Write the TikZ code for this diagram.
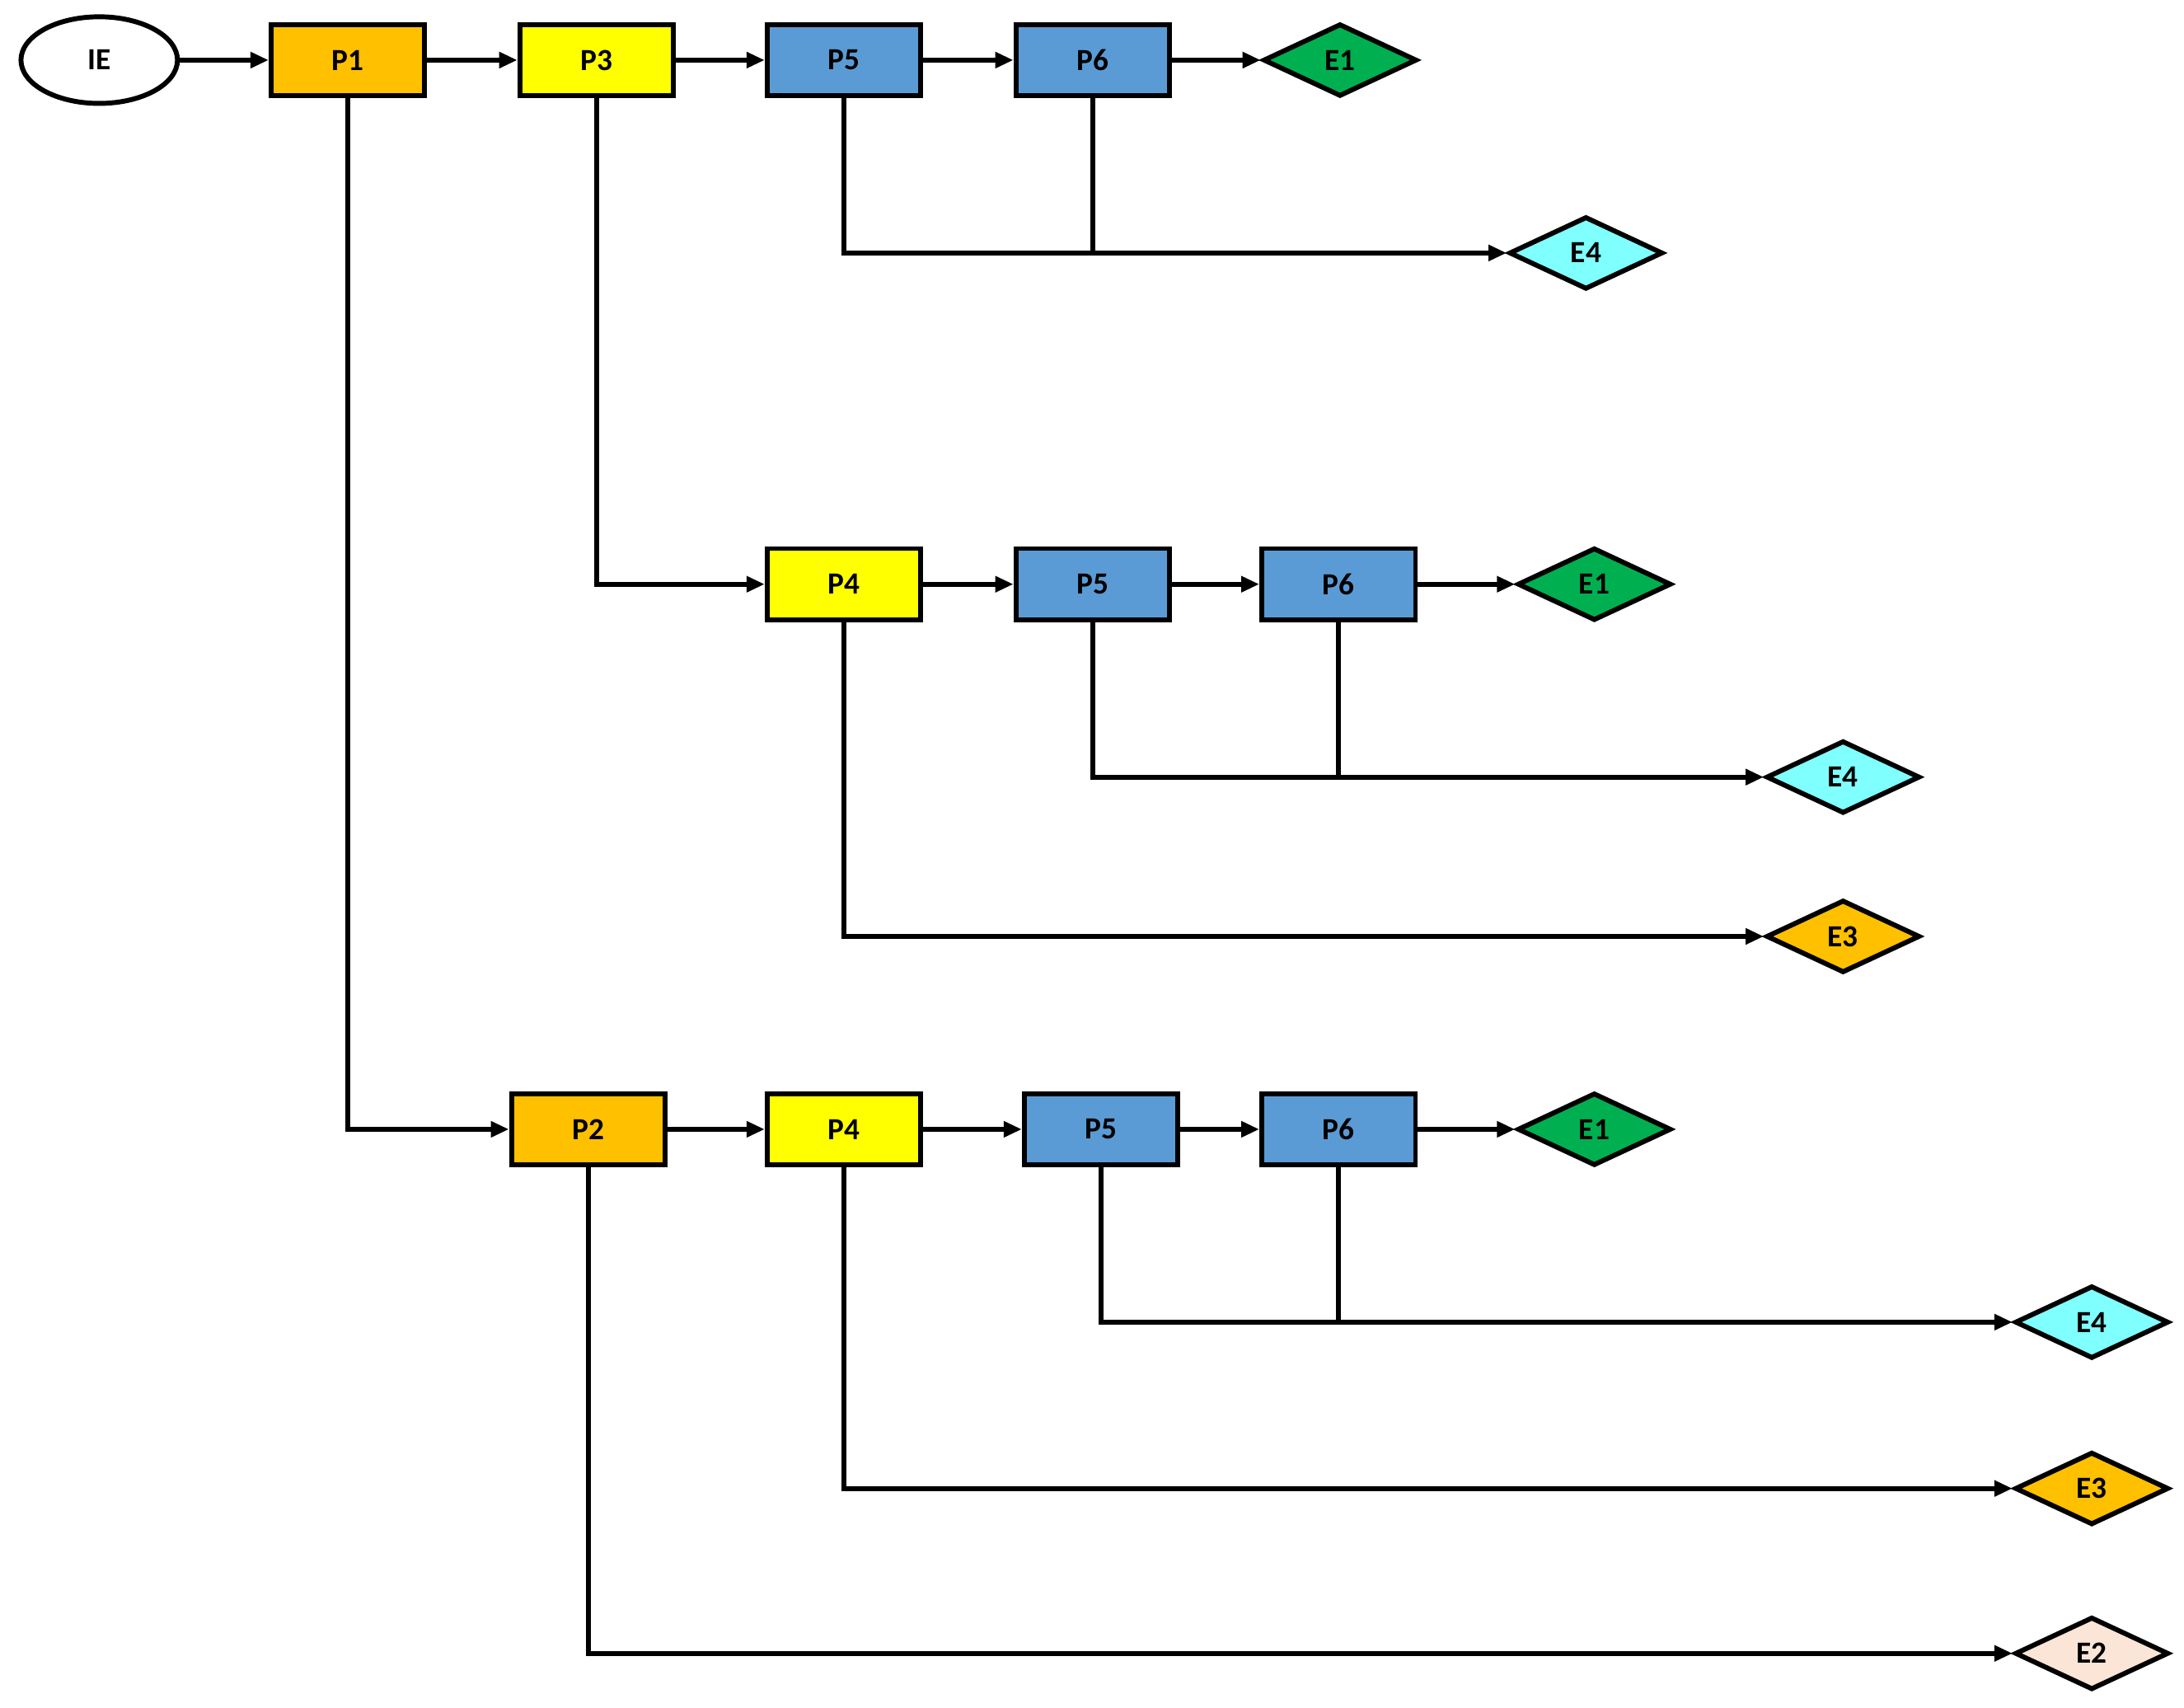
\documentclass[tikz,border=0pt]{standalone}
\usepackage{fontspec}
\setmainfont{Carlito}
\usetikzlibrary{shapes.geometric,arrows.meta}
\definecolor{cor}{HTML}{FFC000}
\definecolor{cye}{HTML}{FFFF00}
\definecolor{cbl}{HTML}{5B9BD5}
\definecolor{cgr}{HTML}{00B050}
\definecolor{ccy}{HTML}{80FFFF}
\definecolor{cpe}{HTML}{FBE5D6}
\begin{document}
\begin{tikzpicture}[x=1pt,y=-1pt,
  every node/.style={font=\fontsize{22}{24}\selectfont\bfseries, line width=3.5pt, draw=black, inner sep=0pt},
  box/.style={rectangle, minimum width=110pt, minimum height=51pt},
  dia/.style={diamond, aspect=2.1, minimum width=110pt, minimum height=52pt},
  ln/.style={line width=3.5pt},
  ar/.style={ln, -{Triangle[length=13pt,width=11pt]}}]
\useasboundingbox (0,0) rectangle (1563,1222);
\node[ellipse, minimum width=112pt, minimum height=62pt, fill=white] (ie) at (71,43) {IE};
\node[box, fill=cor] (p1) at (249,43) {P1};
\node[box, fill=cye] (p3) at (427,43) {P3};
\node[box, fill=cbl] (p5a) at (604,43) {P5};
\node[box, fill=cbl] (p6a) at (782,43) {P6};
\node[dia, fill=cgr] (e1a) at (959,43) {E1};
\node[dia, fill=ccy] (e4a) at (1135,181) {E4};
\node[box, fill=cye] (p4b) at (604,418) {P4};
\node[box, fill=cbl] (p5b) at (782,418) {P5};
\node[box, fill=cbl] (p6b) at (958,418) {P6};
\node[dia, fill=cgr] (e1b) at (1141,418) {E1};
\node[dia, fill=ccy] (e4b) at (1319,556) {E4};
\node[dia, fill=cor] (e3b) at (1319,670) {E3};
\node[box, fill=cor] (p2) at (421,808) {P2};
\node[box, fill=cye] (p4c) at (604,808) {P4};
\node[box, fill=cbl] (p5c) at (788,808) {P5};
\node[box, fill=cbl] (p6c) at (958,808) {P6};
\node[dia, fill=cgr] (e1c) at (1141,808) {E1};
\node[dia, fill=ccy] (e4c) at (1497,946) {E4};
\node[dia, fill=cor] (e3c) at (1497,1065) {E3};
\node[dia, fill=cpe] (e2c) at (1497,1183) {E2};
\draw[ar] (ie) -- (p1);
\draw[ar] (p1) -- (p3);
\draw[ar] (p3) -- (p5a);
\draw[ar] (p5a) -- (p6a);
\draw[ar] (p6a) -- (e1a);
\draw[ar] (p5a) |- (e4a);
\draw[ln] (p6a) -- (p6a |- e4a);
\draw[ar] (p3) |- (p4b);
\draw[ar] (p4b) -- (p5b);
\draw[ar] (p5b) -- (p6b);
\draw[ar] (p6b) -- (e1b);
\draw[ar] (p5b) |- (e4b);
\draw[ln] (p6b) -- (p6b |- e4b);
\draw[ar] (p4b) |- (e3b);
\draw[ar] (p1) |- (p2);
\draw[ar] (p2) -- (p4c);
\draw[ar] (p4c) -- (p5c);
\draw[ar] (p5c) -- (p6c);
\draw[ar] (p6c) -- (e1c);
\draw[ar] (p5c) |- (e4c);
\draw[ln] (p6c) -- (p6c |- e4c);
\draw[ar] (p4c) |- (e3c);
\draw[ar] (p2) |- (e2c);
\end{tikzpicture}
\end{document}
